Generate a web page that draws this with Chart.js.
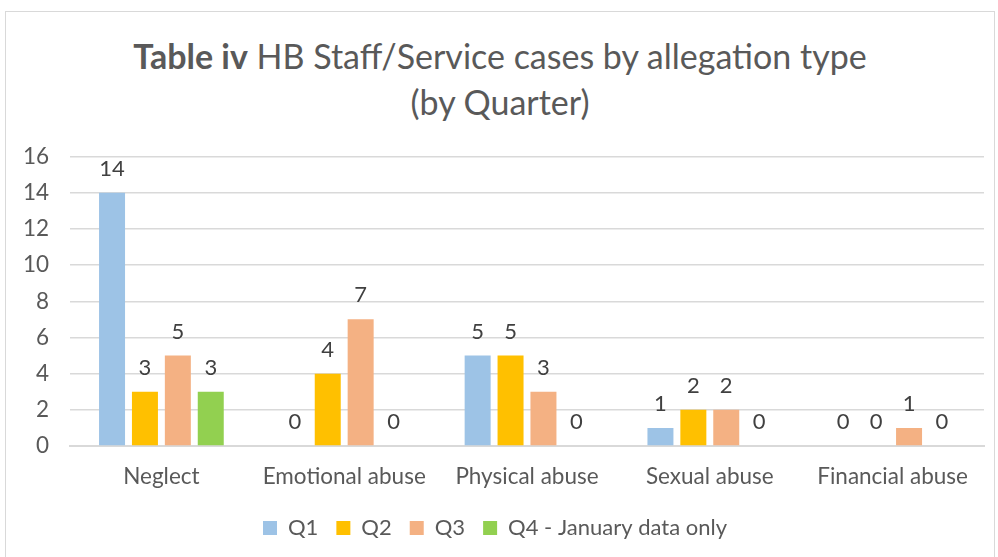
<!DOCTYPE html>
<html>
<head>
<meta charset="utf-8">
<script src="https://cdn.jsdelivr.net/npm/chart.js@4/dist/chart.umd.min.js"></script>
<style>
    body { margin: 0; background: #fff; }
    #frame {
        position: absolute; left: 5px; top: 11px;
        width: 990px; height: 546px;
        border: 1px solid #d9d9d9; border-bottom: none;
        box-sizing: border-box;
    }
    #title {
        position: absolute; left: 0; top: 21px; width: 100%;
        text-align: center; font-family: Lato, sans-serif;
        font-size: 34px; line-height: 46px; color: #595959;
    }
    #box { position: absolute; left: 0; top: 110px; width: 988px; height: 436px; }
</style>
</head>
<body>
<div id="frame">
    <div id="title"><b>Table iv</b> HB Staff/Service cases by allegation type<br>(by Quarter)</div>
    <div id="box"><canvas id="myBarChart"></canvas></div>
</div>
<script>
// -------------------------------------------------------------------------- Data

const categories = ['Neglect', 'Emotional abuse', 'Physical abuse', 'Sexual abuse', 'Financial abuse']
const q1 = [14, 0, 5, 1, 0]
const q2 = [3, 4, 5, 2, 0]
const q3 = [5, 7, 3, 2, 1]
const q4 = [3, 0, 0, 0, 0]
const seriesNames = ['Q1', 'Q2', 'Q3', 'Q4 - January data only']
const yTicks = [0, 2, 4, 6, 8, 10, 12, 14, 16]

let blue = '#9DC3E6'
let gold = '#FFC000'
let peach = '#F4B183'
let green = '#92D050'
let grey = '#595959'

// -------------------------------------------------------------------------- Value labels

const valueLabels = {
    id: 'valueLabels',
    afterDatasetsDraw(chart) {
        const ctx = chart.ctx
        ctx.save()
        ctx.font = '22px Lato, sans-serif'
        ctx.fillStyle = '#404040'
        ctx.textAlign = 'center'
        ctx.textBaseline = 'alphabetic'
        chart.data.datasets.forEach((ds, i) => {
            chart.getDatasetMeta(i).data.forEach((bar, j) => {
                ctx.fillText(ds.data[j], bar.x, bar.y - 17)
            })
        })
        ctx.restore()
    }
}

// -------------------------------------------------------------------------- Bar Chart Config

const dataBarChart = {
    labels: categories,
    datasets: [
        { label: seriesNames[0], data: q1, backgroundColor: blue },
        { label: seriesNames[1], data: q2, backgroundColor: gold },
        { label: seriesNames[2], data: q3, backgroundColor: peach },
        { label: seriesNames[3], data: q4, backgroundColor: green }
    ]
}

const configBarChart = {
    type: 'bar',
    data: dataBarChart,
    plugins: [valueLabels],
    options: {
        responsive: true,
        maintainAspectRatio: false,
        animation: false,
        layout: { padding: { top: 13, right: 10, bottom: 9, left: 0 } },
        datasets: { bar: { categoryPercentage: 0.72, barPercentage: 0.79 } },
        plugins: {
            title: { display: false },
            tooltip: { enabled: false },
            legend: {
                position: 'bottom',
                labels: {
                    boxWidth: 14, boxHeight: 14, padding: 18,
                    color: grey, font: { family: 'Lato, sans-serif', size: 22 }
                }
            }
        },
        scales: {
            x: {
                grid: { display: false },
                border: { color: '#d9d9d9', width: 2 },
                ticks: { color: grey, padding: 9, font: { family: 'Lato, sans-serif', size: 22.5 } }
            },
            y: {
                min: yTicks[0],
                max: yTicks[yTicks.length - 1],
                afterFit: (scale) => { scale.width = 64 },
                afterBuildTicks: (scale) => { scale.ticks = yTicks.map(v => ({ value: v })) },
                grid: { color: '#d9d9d9', lineWidth: 1.5, drawTicks: false },
                border: { display: false },
                ticks: { color: grey, padding: 21, font: { family: 'Lato, sans-serif', size: 22.5 } }
            }
        }
    }
}

// -------------------------------------------------------------------------- Render Chart

let myBarChart = new Chart(
    document.getElementById('myBarChart'),
    configBarChart
)
</script>
</body>
</html>
